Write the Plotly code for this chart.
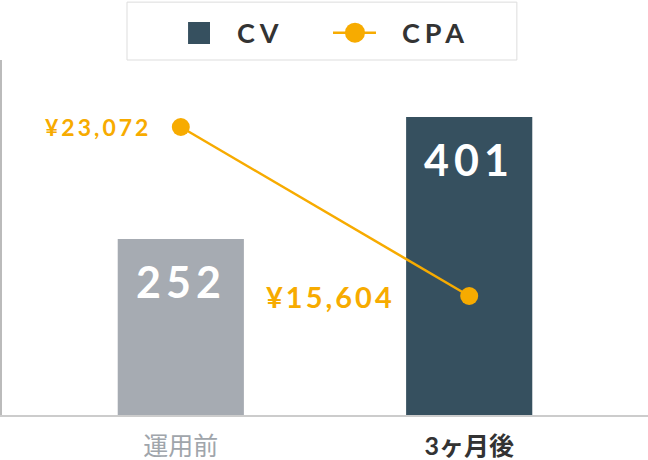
import plotly.graph_objects as go

categories = ["運用前", "3ヶ月後"]
cv_values = [252, 401]
cpa_values = [23072, 15604]
cpa_labels = ["¥23,072", "¥15,604"]

bar_colors = ["#a6abb2", "#36505f"]
orange = "#f7ab00"
font_family = "Lato, 'Noto Sans CJK JP', sans-serif"

fig = go.Figure()

fig.add_trace(go.Bar(
    x=categories, y=cv_values, name="CV",
    marker=dict(color=bar_colors, line_width=0),
    width=0.4375, showlegend=False, hoverinfo="skip",
))

fig.add_trace(go.Scatter(
    x=categories, y=cpa_values, name="CPA", yaxis="y2",
    mode="lines+markers",
    line=dict(color=orange, width=2.5),
    marker=dict(color=orange, size=18),
    showlegend=False, hoverinfo="skip",
))

annotations = []
# bar value labels
for c, v in zip(categories, cv_values):
    annotations.append(dict(
        x=c, y=v, xref="x", yref="y", yanchor="middle", yshift=-42,
        text='<span style="letter-spacing:5px">%d</span>' % v,
        showarrow=False, font=dict(family=font_family, size=43, color="white", weight="bold"),
    ))
# cpa labels
for c, v, lab, sz, sh in zip(categories, cpa_values, cpa_labels, [23, 29], [-28, -72]):
    annotations.append(dict(
        x=c, y=v, xref="x", yref="y2", xanchor="right", yanchor="middle", xshift=sh,
        text='<span style="letter-spacing:3px">%s</span>' % lab,
        showarrow=False, font=dict(family=font_family, size=sz, color=orange, weight="bold"),
    ))
# legend text
annotations.append(dict(
    x=0.3607, y=1.077, xref="paper", yref="paper", xanchor="left", yanchor="middle",
    text='<span style="letter-spacing:5px">CV</span>', showarrow=False,
    font=dict(family=font_family, size=27, color="#333333", weight="bold"),
))
annotations.append(dict(
    x=0.616, y=1.077, xref="paper", yref="paper", xanchor="left", yanchor="middle",
    text='<span style="letter-spacing:5px">CPA</span>', showarrow=False,
    font=dict(family=font_family, size=27, color="#333333", weight="bold"),
))

shapes = [
    # legend box
    dict(type="rect", xref="paper", yref="paper", x0=0.1935, x1=0.797, y0=1.0, y1=1.163,
         line=dict(color="#dddddd", width=1), fillcolor="white", layer="below"),
    dict(type="rect", xref="paper", yref="paper", x0=0.288, x1=0.322, y0=1.045, y1=1.107,
         line_width=0, fillcolor="#36505f"),
    dict(type="line", xref="paper", yref="paper", x0=0.5124, x1=0.5789, y0=1.077, y1=1.077,
         line=dict(color=orange, width=2.5)),
    dict(type="circle", xref="paper", yref="paper", xsizemode="pixel", ysizemode="pixel",
         xanchor=0.5464, yanchor=1.077, x0=-10, x1=10, y0=-10, y1=10,
         line_width=0, fillcolor=orange),
]

fig.update_layout(
    width=648, height=460,
    margin=dict(l=2, r=0, t=60, b=45),
    plot_bgcolor="white", paper_bgcolor="white",
    font=dict(family=font_family),
    showlegend=False,
    xaxis=dict(
        type="category", range=[-0.62, 1.62],
        showline=True, linecolor="#cccccc", linewidth=2,
        showgrid=False, zeroline=False, ticks="",
        tickvals=categories,
        ticktext=['<span style="color:#a0a5ab">運用前</span>', '<b>3ヶ月後</b>'],
        tickfont=dict(size=25, color="#333333", family=font_family),
        ticklabelstandoff=8,
    ),
    yaxis=dict(
        range=[37.1, 470.6], showline=True, linecolor="#bbbbbb", linewidth=2,
        showgrid=False, zeroline=False, showticklabels=False, ticks="",
    ),
    yaxis2=dict(
        range=[10346, 26033], overlaying="y", side="right",
        showgrid=False, zeroline=False, showticklabels=False, showline=False,
    ),
    annotations=annotations,
    shapes=shapes,
)

fig.write_html("out.html", config={"displayModeBar": False},
               post_script="document.body.style.margin='0';")
